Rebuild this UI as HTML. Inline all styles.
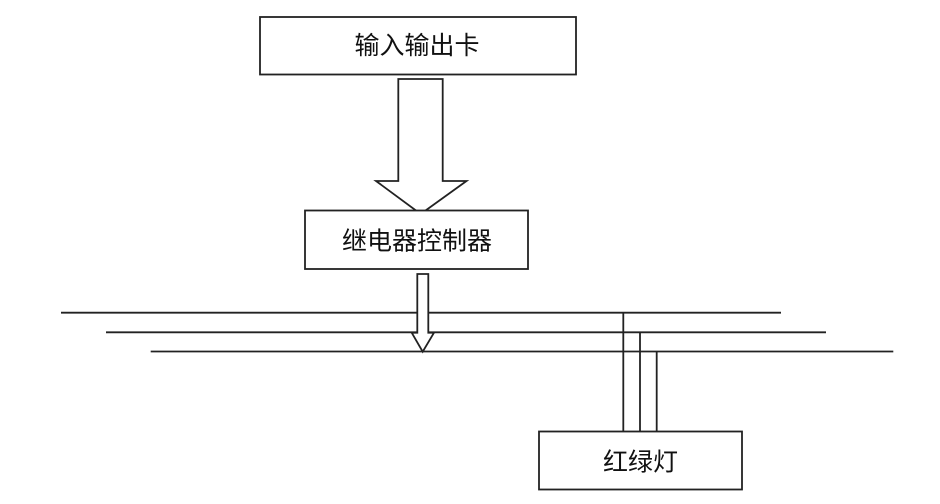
<!DOCTYPE html>
<html>
<head>
<meta charset="utf-8">
<style>
html,body{margin:0;padding:0;background:#fff;}
svg{display:block;}
text{font-family:"Liberation Sans","Noto Sans CJK SC",sans-serif;font-size:25px;fill:#111;}
</style>
</head>
<body>
<svg width="940" height="504" viewBox="0 0 940 504" xmlns="http://www.w3.org/2000/svg">
  <g fill="none" stroke="#222" stroke-width="1.8">
    <!-- top box -->
    <rect x="260" y="17" width="316" height="57.5" fill="#fff"/>
    <!-- big arrow -->
    <polygon points="398.3,79 442.7,79 442.7,181 466.5,181 420.7,214 376,181 398.3,181" fill="#fff"/>
    <!-- relay box -->
    <rect x="305" y="210.5" width="223" height="58.5" fill="#fff"/>
    <!-- lines -->
    <line x1="61" y1="312.7" x2="781" y2="312.7"/>
    <line x1="106" y1="332.3" x2="826" y2="332.3"/>
    <line x1="150.7" y1="351.5" x2="893.3" y2="351.5"/>
    <!-- small arrow -->
    <polygon points="417.3,274 428.3,274 428.3,332.7 434,332.7 422.7,351.7 411.7,332.7 417.3,332.7" fill="#fff"/>
    <!-- verticals -->
    <line x1="623.3" y1="312.7" x2="623.3" y2="431.5"/>
    <line x1="640" y1="332.3" x2="640" y2="431.5"/>
    <line x1="656.7" y1="351.5" x2="656.7" y2="431.5"/>
    <!-- red light box -->
    <rect x="539" y="431.5" width="203" height="58" fill="#fff"/>
  </g>
  <text x="417" y="54" text-anchor="middle">输入输出卡</text>
  <text x="417" y="249.5" text-anchor="middle">继电器控制器</text>
  <text x="640.5" y="470.5" text-anchor="middle">红绿灯</text>
</svg>
</body>
</html>
